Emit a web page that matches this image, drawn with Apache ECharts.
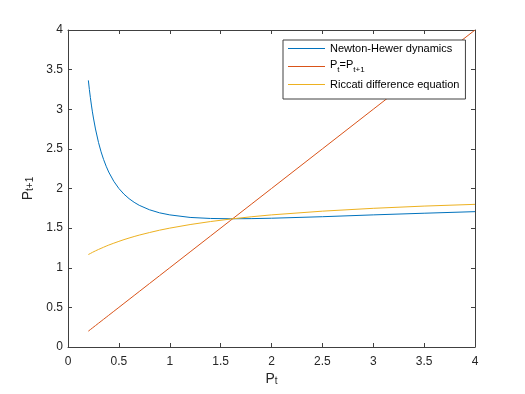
<!DOCTYPE html>
<html>
<head>
<meta charset="utf-8">
<script src="https://cdn.jsdelivr.net/npm/echarts@6/dist/echarts.min.js"></script>
<style>html,body{margin:0;padding:0;background:#fff}#c{width:525px;height:394px}</style>
</head>
<body>
<div id="c"></div>
<script>
var pValues = [0.2, 0.21, 0.22, 0.23, 0.24, 0.25, 0.27, 0.3, 0.325, 0.35, 0.375, 0.4, 0.45, 0.5, 0.55, 0.6, 0.65, 0.7, 0.8, 0.9, 1.0, 1.2, 1.4, 1.6, 1.8, 2.0, 2.5, 3.0, 3.5, 4.0];
var newtonValues = [3.364, 3.250, 3.147, 3.053, 2.967, 2.889, 2.751, 2.580, 2.463, 2.365, 2.281, 2.208, 2.091, 2.000, 1.929, 1.872, 1.826, 1.788, 1.732, 1.693, 1.667, 1.635, 1.622, 1.618, 1.620, 1.625, 1.644, 1.667, 1.688, 1.708];
var identityValues = [0.2, 0.21, 0.22, 0.23, 0.24, 0.25, 0.27, 0.3, 0.325, 0.35, 0.375, 0.4, 0.45, 0.5, 0.55, 0.6, 0.65, 0.7, 0.8, 0.9, 1.0, 1.2, 1.4, 1.6, 1.8, 2.0, 2.5, 3.0, 3.5, 4.0];
var riccatiValues = [1.167, 1.174, 1.180, 1.187, 1.194, 1.200, 1.213, 1.231, 1.245, 1.259, 1.273, 1.286, 1.310, 1.333, 1.355, 1.375, 1.394, 1.412, 1.444, 1.474, 1.500, 1.545, 1.583, 1.615, 1.643, 1.667, 1.714, 1.750, 1.778, 1.800];
var xTicks = [0, 0.5, 1, 1.5, 2, 2.5, 3, 3.5, 4];
var yTicks = [0, 0.5, 1, 1.5, 2, 2.5, 3, 3.5, 4];
var seriesNames = ['Newton-Hewer dynamics', 'Pt=Pt+1', 'Riccati difference equation'];

function zip(xs, ys) { return xs.map(function (x, i) { return [x, ys[i]]; }); }

var FONT = 'Liberation Sans';
var TXT = '#262626';
var AX = '#404040';
var chart = echarts.init(document.getElementById('c'), null, {renderer: 'canvas'});

function axisCommon(showLabel, ticks) {
  return {
    type: 'value', min: ticks[0], max: ticks[ticks.length - 1], interval: ticks[1] - ticks[0],
    axisLine: {show: true, onZero: false, lineStyle: {color: AX, width: 1}},
    axisTick: {show: true, inside: true, length: 4, lineStyle: {color: AX, width: 1}},
    axisLabel: {show: showLabel, color: TXT, fontFamily: FONT, fontSize: 12},
    splitLine: {show: false}
  };
}

var nameRich = {
  a: {fontFamily: FONT, fontSize: 14, color: TXT, verticalAlign: 'top', lineHeight: 14},
  s: {fontFamily: FONT, fontSize: 10, color: TXT, verticalAlign: 'bottom', padding: [15, 0, 0, 0], lineHeight: 10}
};

var xBottom = axisCommon(true, xTicks);
xBottom.position = 'bottom';
xBottom.axisLabel.margin = 9;
xBottom.name = '{a|P}{s|t}';
xBottom.nameLocation = 'middle';
xBottom.nameGap = 25;
xBottom.nameMoveOverlap = false;
xBottom.nameTextStyle = {rich: nameRich};
var xTop = axisCommon(false, xTicks);
xTop.position = 'top';

var yLeft = axisCommon(true, yTicks);
yLeft.position = 'left';
yLeft.axisLabel.margin = 5;
yLeft.name = '{a|P}{s|t+1}';
yLeft.nameLocation = 'middle';
yLeft.nameGap = 28;
yLeft.nameRotate = 90;
yLeft.nameTextStyle = {rich: nameRich};
var yRight = axisCommon(false, yTicks);
yRight.position = 'right';

var colors = ['#0072BD', '#D95319', '#EDB120'];

chart.setOption({
  animation: false,
  backgroundColor: '#fff',
  grid: {left: 68, right: 50, top: 30, bottom: 47, containLabel: false, outerBoundsMode: 'none'},
  xAxis: [xBottom, xTop],
  yAxis: [yLeft, yRight],
  legend: {
    orient: 'vertical', left: 283, top: 40,
    backgroundColor: '#fff', borderColor: AX, borderWidth: 1, borderRadius: 0,
    padding: [3, 6, 9, 5], itemWidth: 37, itemHeight: 10, itemGap: 5,
    data: seriesNames.map(function (n) { return {name: n, icon: 'path://M0,5L37,5L37,6L0,6Z'}; }),
    formatter: function (n) {
      if (n === 'Pt=Pt+1') return '{a|P}{s|t}{a|=P}{s|t+1}';
      return '{a|' + n + '}';
    },
    textStyle: {fontFamily: FONT, fontSize: 11, color: '#000', rich: {
      a: {fontFamily: FONT, fontSize: 11, color: '#000', verticalAlign: 'top'},
      s: {fontFamily: FONT, fontSize: 8, color: '#000', verticalAlign: 'bottom', padding: [7, 0, 0, 0]}
    }}
  },
  series: [
    {name: seriesNames[0], type: 'line', data: zip(pValues, newtonValues), showSymbol: false, symbol: 'none',
     lineStyle: {color: colors[0], width: 1}, itemStyle: {color: colors[0]}},
    {name: seriesNames[1], type: 'line', data: zip(pValues, identityValues), showSymbol: false, symbol: 'none',
     lineStyle: {color: colors[1], width: 1}, itemStyle: {color: colors[1]}},
    {name: seriesNames[2], type: 'line', data: zip(pValues, riccatiValues), showSymbol: false, symbol: 'none',
     lineStyle: {color: colors[2], width: 1}, itemStyle: {color: colors[2]}}
  ]
});
</script>
</body>
</html>
